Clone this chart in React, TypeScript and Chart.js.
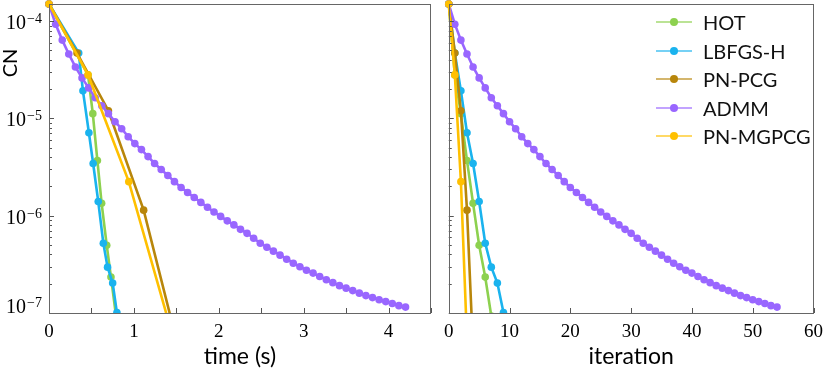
import React, { useEffect, useRef } from 'react';
import { Chart, registerables } from 'chart.js';

Chart.register(...registerables);

// ---------- data ----------
const SERIES_NAMES = ['HOT', 'LBFGS-H', 'PN-PCG', 'ADMM', 'PN-MGPCG'];
const SERIES_COLORS = ['#8DD14F', '#1AB3EE', '#B8860B', '#9966FF', '#FFC000'];

const hotTime = [0, 0.46, 0.516, 0.57, 0.62, 0.68, 0.73, 0.79];
const hotCN = [1.5e-4, 2.8e-5, 1.12e-5, 3.69e-6, 1.34e-6, 4.97e-7, 2.34e-7, 9.3e-8];

const lbfgsTime = [0, 0.35, 0.4, 0.47, 0.52, 0.58, 0.64, 0.69, 0.75, 0.8];
const lbfgsCN = [1.5e-4, 4.7e-5, 1.92e-5, 7.13e-6, 3.44e-6, 1.4e-6, 5.21e-7, 2.96e-7, 2.03e-7, 1.01e-7];

const pcgTime = [0, 0.33, 0.7, 1.115, 1.53];
const pcgCN = [1.5e-4, 4.7e-5, 1.2e-5, 1.14e-6, 4.2e-8];

const admmTime = [
  0, 0.078, 0.156, 0.233, 0.311, 0.389, 0.467, 0.544, 0.622, 0.7,
  0.778, 0.856, 0.933, 1.011, 1.089, 1.167, 1.244, 1.322, 1.4, 1.478,
  1.556, 1.633, 1.711, 1.789, 1.867, 1.944, 2.022, 2.1, 2.178, 2.256,
  2.333, 2.411, 2.489, 2.567, 2.644, 2.722, 2.8, 2.878, 2.956, 3.033,
  3.111, 3.189, 3.267, 3.344, 3.422, 3.5, 3.578, 3.656, 3.733, 3.811,
  3.889, 3.967, 4.044, 4.122, 4.2,
];
const admmCN = [
  1.5e-4, 9.3e-5, 6.38e-5, 4.59e-5, 3.38e-5, 2.61e-5, 2.06e-5, 1.63e-5, 1.35e-5, 1.12e-5,
  9.25e-6, 7.83e-6, 6.49e-6, 5.51e-6, 4.78e-6, 4.05e-6, 3.44e-6, 2.98e-6, 2.59e-6, 2.24e-6,
  1.95e-6, 1.73e-6, 1.54e-6, 1.37e-6, 1.22e-6, 1.09e-6, 9.84e-7, 8.85e-7, 8.05e-7, 7.24e-7,
  6.59e-7, 5.86e-7, 5.21e-7, 4.74e-7, 4.32e-7, 3.93e-7, 3.57e-7, 3.25e-7, 2.99e-7, 2.75e-7,
  2.57e-7, 2.37e-7, 2.2e-7, 2.05e-7, 1.91e-7, 1.8e-7, 1.7e-7, 1.6e-7, 1.51e-7, 1.44e-7,
  1.37e-7, 1.31e-7, 1.25e-7, 1.19e-7, 1.15e-7,
];

const mgTime = [0, 0.46, 0.94, 1.47];
const mgCN = [1.5e-4, 2.8e-5, 2.24e-6, 5.3e-8];

const ALL_TIMES = [hotTime, lbfgsTime, pcgTime, admmTime, mgTime];
const ALL_CN = [hotCN, lbfgsCN, pcgCN, admmCN, mgCN];

const Y_MIN = 1e-7;
const Y_MAX = 1.5e-4;
const Y_DECADES = [-4, -5, -6, -7];

const TIME_MAX = 4.5;
const ITER_MAX = 60;
const TIME_TICKS = [0, 0.5, 1, 1.5, 2, 2.5, 3, 3.5, 4, 4.5];
const TIME_LABELS = [0, 1, 2, 3, 4];
const ITER_TICKS = [0, 10, 20, 30, 40, 50, 60];
const ITER_LABELS = [0, 10, 20, 30, 40, 50, 60];

const X_TITLE_LEFT = 'time (s)';
const X_TITLE_RIGHT = 'iteration';
const Y_TITLE = 'CN';

const LEGEND_Y = [22, 50.5, 79, 107.5, 136];

const SANS = 'Lato, "Open Sans", sans-serif';
const SERIF = '"Liberation Serif", "DejaVu Serif", serif';

// ---------- plugins ----------
const frameTicksPlugin = {
  id: 'frameTicks',
  afterDatasetsDraw(chart: any, _args: any, opts: any) {
    const { ctx, chartArea: a, scales } = chart;
    const xs = scales.x;
    const ys = scales.y;
    ctx.save();
    ctx.strokeStyle = '#555';
    ctx.lineWidth = 1;
    ctx.beginPath();
    for (const v of opts.xTicks as number[]) {
      const px = Math.round(xs.getPixelForValue(v)) + 0.5;
      ctx.moveTo(px, a.bottom);
      ctx.lineTo(px, a.bottom - 5);
    }
    for (const e of Y_DECADES) {
      for (let m = 1; m <= 9; m++) {
        const v = m * Math.pow(10, e);
        if (v < Y_MIN * 0.999 || v > Y_MAX) continue;
        const py = Math.round(ys.getPixelForValue(v)) + 0.5;
        ctx.moveTo(a.left, py);
        ctx.lineTo(a.left + (m === 1 ? 5 : 3), py);
      }
    }
    ctx.stroke();
    ctx.strokeStyle = '#666';
    ctx.strokeRect(Math.round(a.left) + 0.5, Math.round(a.top) + 0.5, Math.round(a.width) - 1, Math.round(a.height));
    ctx.restore();
  },
  afterDraw(chart: any, _args: any, opts: any) {
    if (!opts.yLabels) return;
    const { ctx, chartArea: a, scales } = chart;
    const ys = scales.y;
    ctx.save();
    ctx.fillStyle = '#000';
    ctx.textBaseline = 'alphabetic';
    ctx.textAlign = 'right';
    const right = a.left - 7;
    for (const e of Y_DECADES) {
      const py = Math.min(ys.getPixelForValue(Math.pow(10, e)), a.bottom - 8);
      const sup = '\u2212' + String(-e);
      ctx.font = '14px ' + SERIF;
      const supW = ctx.measureText(sup).width;
      ctx.fillText(sup, right, py + 2);
      ctx.font = '20px ' + SERIF;
      ctx.fillText('10', right - supW - 1, py + 8);
    }
    // y-axis title
    ctx.translate(11, 63);
    ctx.rotate(-Math.PI / 2);
    ctx.textAlign = 'center';
    ctx.textBaseline = 'middle';
    ctx.font = '20px ' + SANS;
    ctx.fillText(Y_TITLE, 0, 0);
    ctx.restore();
  },
};

function makeConfig(side: 'left' | 'right') {
  const isLeft = side === 'left';
  const labels = isLeft ? TIME_LABELS : ITER_LABELS;
  const datasets = SERIES_NAMES.map((name, k) => ({
    label: name,
    data: ALL_CN[k].map((y, i) => ({ x: isLeft ? ALL_TIMES[k][i] : i, y })),
    borderColor: SERIES_COLORS[k],
    backgroundColor: SERIES_COLORS[k],
    pointBackgroundColor: SERIES_COLORS[k],
    pointBorderWidth: 0,
    pointRadius: 3.8,
    borderWidth: 2.6,
    tension: 0,
    order: 5 - k,
    clip: { left: 6, top: 6, right: 0, bottom: 0 },
  }));
  return {
    type: 'line' as const,
    data: { datasets },
    plugins: [frameTicksPlugin],
    options: {
      responsive: false,
      animation: false as const,
      layout: { padding: { top: 3, right: isLeft ? 5 : 9, left: 0, bottom: 0 } },
      plugins: {
        legend: { display: false },
        tooltip: { enabled: false },
        frameTicks: { xTicks: isLeft ? TIME_TICKS : ITER_TICKS, yLabels: isLeft },
      },
      scales: {
        x: {
          type: 'linear' as const,
          min: 0,
          max: isLeft ? TIME_MAX : ITER_MAX,
          grid: { display: false, drawTicks: false },
          border: { display: false },
          afterBuildTicks: (scale: any) => {
            scale.ticks = labels.map((v) => ({ value: v }));
          },
          ticks: {
            autoSkip: false,
            maxRotation: 0,
            padding: 8,
            color: '#000',
            font: { family: SERIF, size: 19 },
            callback: (v: any) => String(v),
          },
          title: {
            display: true,
            text: isLeft ? X_TITLE_LEFT : X_TITLE_RIGHT,
            color: '#000',
            font: { family: SANS, size: 23 },
            padding: { top: 0, bottom: 0 },
          },
          afterFit: (scale: any) => {
            scale.height = 57;
          },
        },
        y: {
          type: 'logarithmic' as const,
          min: Y_MIN,
          max: Y_MAX,
          grid: { display: false, drawTicks: false },
          border: { display: false },
          ticks: { display: false },
          afterFit: (scale: any) => {
            scale.width = isLeft ? 49 : 6;
          },
        },
      },
    },
  };
}

export default function App() {
  const leftRef = useRef<HTMLCanvasElement>(null);
  const rightRef = useRef<HTMLCanvasElement>(null);

  useEffect(() => {
    const left = new Chart(leftRef.current as HTMLCanvasElement, makeConfig('left') as any);
    const right = new Chart(rightRef.current as HTMLCanvasElement, makeConfig('right') as any);
    return () => {
      left.destroy();
      right.destroy();
    };
  }, []);

  return (
    <div style={{ position: 'fixed', left: 0, top: 0, width: 831, height: 370, background: '#fff', overflow: 'hidden' }}>
      <canvas
        ref={leftRef}
        width={436}
        height={370}
        style={{ position: 'absolute', left: 0, top: 0, width: 436, height: 370 }}
      />
      <canvas
        ref={rightRef}
        width={395}
        height={370}
        style={{ position: 'absolute', left: 436, top: 0, width: 395, height: 370 }}
      />
      {SERIES_NAMES.map((name, k) => (
        <div
          key={name}
          style={{
            position: 'absolute',
            left: 656,
            top: LEGEND_Y[k] - 15,
            height: 30,
            display: 'flex',
            alignItems: 'center',
          }}
        >
          <div style={{ position: 'relative', width: 36, height: 30 }}>
            <div
              style={{
                position: 'absolute',
                left: 0,
                top: 14,
                width: 36,
                height: 2,
                background: SERIES_COLORS[k],
                opacity: 0.6,
              }}
            />
            <div
              style={{
                position: 'absolute',
                left: 14,
                top: 11,
                width: 8,
                height: 8,
                borderRadius: '50%',
                background: SERIES_COLORS[k],
              }}
            />
          </div>
          <span style={{ marginLeft: 11, font: '20px ' + SANS, color: '#111', lineHeight: '30px', whiteSpace: 'nowrap' }}>
            {name}
          </span>
        </div>
      ))}
    </div>
  );
}
